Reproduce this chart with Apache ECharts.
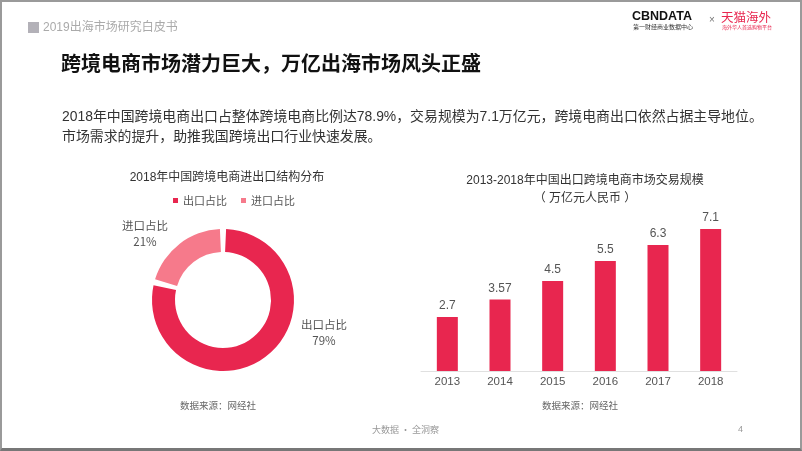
<!DOCTYPE html>
<html>
<head>
<meta charset="utf-8">
<script src="https://cdn.jsdelivr.net/npm/echarts@6/dist/echarts.min.js"></script>
<style>
html,body{margin:0;padding:0;background:#fff;}
#wrap{position:relative;width:802px;height:451px;overflow:hidden;}
#chart{position:absolute;left:0;top:0;width:802px;height:451px;}
#frame{position:absolute;left:0;top:0;width:802px;height:451px;box-sizing:border-box;border:2px solid #9a9a9a;border-bottom:3px solid #777;pointer-events:none;}
</style>
</head>
<body>
<div id="wrap"><div id="chart"></div><div id="frame"></div></div>
<script>
// ---- data ----
const pieNames = ['出口占比', '进口占比'];
const pieValues = [79, 21];
const years = ['2013', '2014', '2015', '2016', '2017', '2018'];
const marketValues = [2.7, 3.57, 4.5, 5.5, 6.3, 7.1];

const FONT = '"Liberation Sans", "Noto Sans CJK SC", sans-serif';
const CJK = '"Noto Sans CJK SC", sans-serif';
const RED = '#E8264F';
const PINK = '#F67A8B';

const chart = echarts.init(document.getElementById('chart'), null, {renderer: 'canvas'});

function txt(text, x, y, font, fill, align) {
  return {type: 'text', x: x, y: y, silent: true,
    style: {text: text, font: font, fill: fill, align: align || 'left', verticalAlign: 'middle'}};
}

const option = {
  backgroundColor: '#fff',
  textStyle: {fontFamily: FONT},
  title: [
    {text: '2018年中国跨境电商进出口结构分布', left: 222, top: 167, textAlign: 'center',
     textStyle: {fontSize: 12, fontWeight: 'normal', color: '#333', fontFamily: FONT}},
    {text: '2013-2018年中国出口跨境电商市场交易规模\n（ 万亿元人民币 ）', left: 580, top: 167, textAlign: 'center',
     textStyle: {fontSize: 12, fontWeight: 'normal', color: '#333', lineHeight: 18, fontFamily: FONT}}
  ],
  legend: {
    data: pieNames, left: 168, top: 190, icon: 'rect', itemWidth: 5, itemHeight: 5, itemGap: 14,
    textStyle: {fontSize: 11, color: '#555', fontFamily: CJK}
  },
  grid: {left: 421, right: 65, top: 211, bottom: 80},
  xAxis: {
    type: 'category', data: years,
    axisLine: {lineStyle: {color: '#e0e0e0'}}, axisTick: {show: false},
    axisLabel: {color: '#555', fontSize: 11.5, margin: 5, fontFamily: FONT}
  },
  yAxis: {type: 'value', min: 0, max: 8, show: false, splitLine: {show: false}},
  series: [
    {
      type: 'pie', center: [223, 300], radius: [48, 71], startAngle: 90, padAngle: 5,
      avoidLabelOverlap: false,
      data: pieNames.map((n, i) => ({name: n, value: pieValues[i],
        itemStyle: {color: i === 0 ? RED : PINK}})),
      label: {show: true, position: 'outside', formatter: '{b}\n{c}%', color: '#555', fontSize: 11.5,
              lineHeight: 16, align: 'center', fontFamily: CJK},
      labelLine: {show: false},
      labelLayout: function (p) {
        if (p.dataIndex === 0) return {x: 324, y: 333, align: 'center', verticalAlign: 'middle'};
        return {x: 145, y: 234, align: 'center', verticalAlign: 'middle'};
      },
      emphasis: {disabled: true}
    },
    {
      type: 'bar', data: marketValues, barWidth: 21,
      itemStyle: {color: RED},
      label: {show: true, position: 'top', distance: 5, color: '#555', fontSize: 12, fontFamily: FONT},
      emphasis: {disabled: true}
    }
  ],
  graphic: [
    {type: 'rect', shape: {x: 28, y: 22, width: 11, height: 11}, style: {fill: '#b3b1b8'}, silent: true},
    txt('2019出海市场研究白皮书', 43, 27.5, '12px ' + FONT, '#aaa'),
    txt('跨境电商市场潜力巨大，万亿出海市场风头正盛', 61, 63, 'bold 20px ' + CJK, '#111'),
    txt('2018年中国跨境电商出口占整体跨境电商比例达78.9%，交易规模为7.1万亿元，跨境电商出口依然占据主导地位。', 62, 117, '13.9px ' + FONT, '#333'),
    txt('市场需求的提升，助推我国跨境出口行业快速发展。', 62, 137, '13.9px ' + FONT, '#333'),
    txt('数据来源：网经社', 218, 405, '9.5px ' + CJK, '#666', 'center'),
    txt('数据来源：网经社', 580, 405, '9.5px ' + CJK, '#666', 'center'),
    txt('大数据 · 全洞察', 372, 430, '9px ' + CJK, '#999'),
    txt('4', 738, 430, '9px ' + FONT, '#999'),
    // logo
    txt('CBNDATA', 632, 17, 'bold 12.5px ' + FONT, '#111'),
    txt('第一财经商业数据中心', 633, 27, '6px ' + CJK, '#333'),
    txt('×', 709, 20, '10px ' + FONT, '#777'),
    txt('天猫海外', 721, 17, '12.5px ' + CJK, '#E8264F'),
    txt('海外华人首选购物平台', 722, 27, '5px ' + CJK, '#E8264F')
  ]
};
chart.setOption(option);
</script>
</body>
</html>
